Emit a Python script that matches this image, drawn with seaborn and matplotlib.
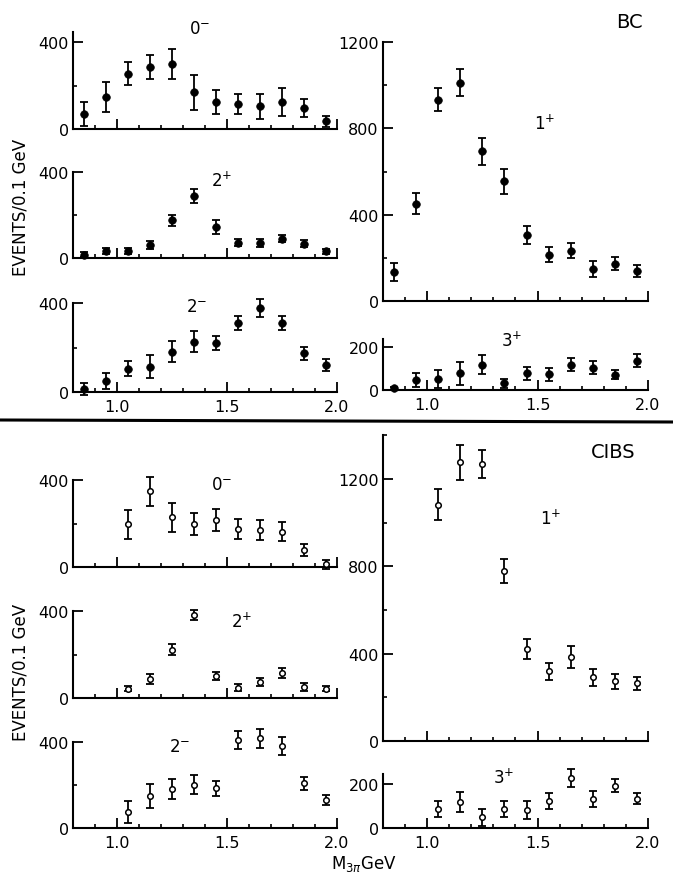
import matplotlib
matplotlib.use("Agg")
import matplotlib.pyplot as plt
from matplotlib.lines import Line2D
import seaborn as sns
import pandas as pd

# ---------------- data ----------------
mass_bc = [0.85, 0.95, 1.05, 1.15, 1.25, 1.35, 1.45, 1.55, 1.65, 1.75, 1.85, 1.95]
mass_cibs = [1.05, 1.15, 1.25, 1.35, 1.45, 1.55, 1.65, 1.75, 1.85, 1.95]

bc_0m = [69, 146, 254, 285, 300, 169, 126, 114, 105, 123, 97, 35]
bc_0m_err = [56, 70, 52, 54, 70, 80, 55, 46, 58, 65, 41, 24]
bc_2p = [16, 33, 33, 59, 175, 288, 144, 71, 71, 90, 67, 31]
bc_2p_err = [12, 15, 15, 18, 24, 33, 31, 16, 19, 15, 15, 12]
bc_2m = [12, 50, 105, 114, 182, 226, 220, 310, 379, 310, 174, 122]
bc_2m_err = [27, 35, 35, 51, 49, 46, 31, 32, 40, 30, 28, 27]
bc_1p = [134, 451, 933, 1012, 693, 554, 304, 215, 232, 147, 173, 139]
bc_1p_err = [43, 50, 54, 63, 61, 59, 42, 35, 35, 37, 30, 30]
bc_3p = [8, 47, 50, 77, 118, 31, 77, 74, 117, 104, 71, 137]
bc_3p_err = [8, 31, 42, 55, 45, 22, 30, 30, 30, 30, 22, 30]

cibs_0m = [197, 348, 228, 197, 217, 174, 171, 163, 78, 12]
cibs_0m_err = [66, 68, 65, 51, 51, 45, 45, 45, 28, 20]
cibs_2p = [43, 89, 222, 380, 101, 48, 74, 116, 51, 43]
cibs_2p_err = [12, 23, 25, 23, 18, 18, 20, 23, 20, 13]
cibs_2m = [73, 150, 181, 201, 184, 408, 417, 381, 208, 130]
cibs_2m_err = [52, 55, 48, 44, 36, 41, 45, 40, 30, 25]
cibs_1p = [1082, 1276, 1269, 777, 421, 319, 386, 292, 273, 264]
cibs_1p_err = [72, 81, 64, 55, 44, 40, 50, 40, 35, 30]
cibs_3p = [86, 120, 48, 86, 83, 124, 227, 132, 192, 132]
cibs_3p_err = [38, 45, 40, 38, 40, 36, 42, 36, 30, 25]

x_major = [1.0, 1.5, 2.0]
x_major_labels = ["1.0", "1.5", "2.0"]
x_minor = [0.9, 1.1, 1.2, 1.3, 1.4, 1.6, 1.7, 1.8, 1.9]

# ---------------- style ----------------
sns.set_theme(style="ticks")
plt.rcParams['font.family'] = ['DejaVu Sans']
plt.rcParams['mathtext.fontset'] = 'dejavusans'

W, H = 673, 878
fig = plt.figure(figsize=(W / 100, H / 100), dpi=100)
fig.patch.set_facecolor('white')


def make_ax(x0, x1, y0, yref, refval, ymax):
    scale = (y0 - yref) / refval
    ytop = y0 - ymax * scale
    ax = fig.add_axes([x0 / W, 1 - y0 / H, (x1 - x0) / W, (y0 - ytop) / H])
    ax.set_xlim(0.8, 2.0)
    ax.set_ylim(0, ymax)
    ax.set_facecolor('none')
    return ax


def draw(ax, mass, vals, errs, filled):
    ax.errorbar(mass, vals, yerr=errs, fmt='none', ecolor='black',
                elinewidth=1.3, capsize=2.6, capthick=1.3, clip_on=False, zorder=2)
    df = pd.DataFrame({'M': mass, 'N': vals})
    if filled:
        sns.scatterplot(data=df, x='M', y='N', ax=ax, marker='o', s=30,
                        color='black', edgecolor='black', linewidth=0.5,
                        zorder=3, clip_on=False, legend=False)
    else:
        sns.scatterplot(data=df, x='M', y='N', ax=ax, marker='o', s=16,
                        facecolor='white', edgecolor='black', linewidth=1.1,
                        zorder=3, clip_on=False, legend=False)
    ax.set_xlabel('')
    ax.set_ylabel('')


def style(ax, ymajor, ylabels, yminor, xlabels):
    sns.despine(ax=ax)
    for s in ['left', 'bottom']:
        ax.spines[s].set_linewidth(1.5)
        ax.spines[s].set_color('black')
    ax.set_xticks(x_major)
    ax.set_xticks(x_minor, minor=True)
    if xlabels:
        ax.set_xticklabels(x_major_labels)
    else:
        ax.set_xticklabels([])
    ax.set_yticks(ymajor)
    ax.set_yticklabels(ylabels)
    ax.set_yticks(yminor, minor=True)
    ax.tick_params(which='major', direction='in', length=7, width=1.3,
                   color='black', labelsize=11.5, labelcolor='black', pad=3)
    ax.tick_params(which='minor', direction='in', length=3, width=1.2, color='black')
    ax.tick_params(axis='x', which='major', pad=5)


LX0, LX1 = 73, 337
RX0, RX1 = 383, 648

# ---- BC (top half) ----
ax = make_ax(LX0, LX1, 130, 43, 400, 445)
draw(ax, mass_bc, bc_0m, bc_0m_err, True)
style(ax, [0, 400], ["0", "400"], [200], False)

ax = make_ax(LX0, LX1, 259, 173, 400, 400)
draw(ax, mass_bc, bc_2p, bc_2p_err, True)
style(ax, [0, 400], ["0", "400"], [200], False)

ax = make_ax(LX0, LX1, 393, 304, 400, 400)
draw(ax, mass_bc, bc_2m, bc_2m_err, True)
style(ax, [0, 400], ["0", "400"], [200], True)

ax = make_ax(RX0, RX1, 302, 43, 1200, 1200)
draw(ax, mass_bc, bc_1p, bc_1p_err, True)
style(ax, [0, 400, 800, 1200], ["0", "400", "800", "1200"], [200, 600, 1000], False)

ax = make_ax(RX0, RX1, 391, 348, 200, 237)
draw(ax, mass_bc, bc_3p, bc_3p_err, True)
style(ax, [0, 200], ["0", "200"], [], True)

# ---- CIBS (bottom half) ----
ax = make_ax(LX0, LX1, 568, 481, 400, 400)
draw(ax, mass_cibs, cibs_0m, cibs_0m_err, False)
style(ax, [0, 400], ["0", "400"], [200], False)

ax = make_ax(LX0, LX1, 699, 612, 400, 400)
draw(ax, mass_cibs, cibs_2p, cibs_2p_err, False)
style(ax, [0, 400], ["0", "400"], [200], False)

ax = make_ax(LX0, LX1, 829, 743, 400, 400)
draw(ax, mass_cibs, cibs_2m, cibs_2m_err, False)
style(ax, [0, 400], ["0", "400"], [200], True)

ax = make_ax(RX0, RX1, 742, 480, 1200, 1400)
draw(ax, mass_cibs, cibs_1p, cibs_1p_err, False)
style(ax, [0, 400, 800, 1200], ["0", "400", "800", "1200"], [200, 600, 1000, 1400], False)

ax = make_ax(RX0, RX1, 829, 785, 200, 245)
draw(ax, mass_cibs, cibs_3p, cibs_3p_err, False)
style(ax, [0, 200], ["0", "200"], [], True)


# ---------------- texts ----------------
def ftext(x, y, s, size=12, **kw):
    fig.text(x / W, 1 - y / H, s, ha='center', va='center', fontsize=size,
             color='black', **kw)


ftext(200, 29, r"$\mathregular{0^{-}}$")
ftext(222, 181, r"$\mathregular{2^{+}}$")
ftext(197, 307, r"$\mathregular{2^{-}}$")
ftext(545, 124, r"$\mathregular{1^{+}}$")
ftext(512, 341, r"$\mathregular{3^{+}}$")
ftext(629, 23, "BC", size=14)

ftext(613, 453, "CIBS", size=14)
ftext(222, 485, r"$\mathregular{0^{-}}$")
ftext(242, 622, r"$\mathregular{2^{+}}$")
ftext(180, 747, r"$\mathregular{2^{-}}$")
ftext(551, 519, r"$\mathregular{1^{+}}$")
ftext(504, 778, r"$\mathregular{3^{+}}$")

ftext(21, 207, "EVENTS/0.1 GeV", size=12, rotation=90)
ftext(21, 672, "EVENTS/0.1 GeV", size=12, rotation=90)
ftext(364, 864, r"M$_{3\pi}$GeV", size=12)

fig.add_artist(Line2D([0, 1], [1 - 421 / H, 1 - 423 / H], transform=fig.transFigure,
                      color='black', linewidth=2.2))

fig.savefig('out.png', dpi=100)
